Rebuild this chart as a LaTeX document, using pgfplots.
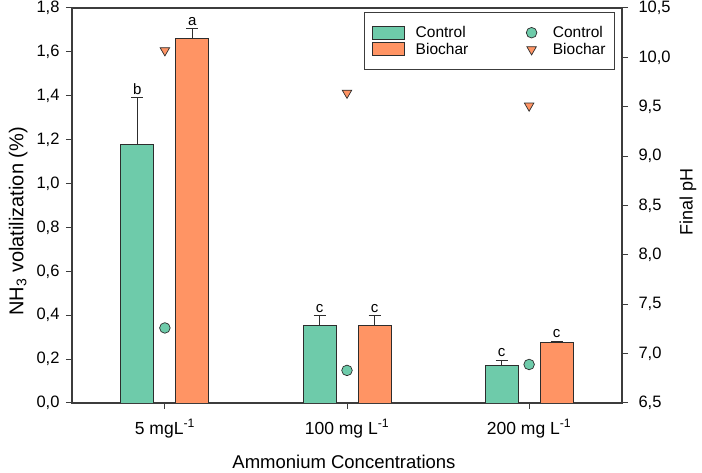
\documentclass[border=0pt]{standalone}
\usepackage{fontspec}
\setmainfont{Liberation Sans}
\usepackage{pgfplots}
\pgfplotsset{compat=1.18}
\definecolor{ctrl}{RGB}{110,203,170}
\definecolor{bio}{RGB}{255,148,100}
\definecolor{edge}{RGB}{45,45,45}
\definecolor{axisgray}{RGB}{60,60,60}
\pgfplotsset{patchlegend/.style={legend image code/.code={\draw[##1] (0pt,-6.5pt) rectangle (32pt,6.5pt);}}}
\begin{document}
\begin{tikzpicture}
\begin{axis}[
  scale only axis, width=550pt, height=395pt,
  xmin=-0.51, xmax=2.51, ymin=0, ymax=1.8,
  xtick={0,1,2},
  xticklabels={5 mgL\textsuperscript{-1}, 100 mg L\textsuperscript{-1}, 200 mg L\textsuperscript{-1}},
  ytick={0,0.2,0.4,0.6,0.8,1.0,1.2,1.4,1.6,1.8},
  xtick pos=lower, ytick pos=left, tick align=outside, major tick length=6pt,
  /pgf/number format/.cd, use comma, fixed, fixed zerofill, precision=1, assume math mode=true,
  /pgfplots/.cd,
  axis line style={axisgray, line width=1.1pt},
  every tick/.style={axisgray, line width=1pt},
  yticklabel style={font=\fontsize{16.5}{19}\selectfont, xshift=-3pt},
  xticklabel style={font=\fontsize{17.5}{20}\selectfont, yshift=-7pt},
  xlabel={Ammonium Concentrations},
  ylabel={NH\textsubscript{3} volatilization (\%)},
  xlabel style={font=\fontsize{18.5}{21}\selectfont, at={(axis description cs:0.4945,-0.149)}, anchor=center},
  ylabel style={font=\fontsize{20}{23}\selectfont, at={(axis description cs:-0.098,0.46)}, anchor=center},
]
\addplot[ybar, bar width=33pt, bar shift=0pt, fill=ctrl, draw=edge, line width=0.9pt,
  error bars/.cd, y dir=plus, y explicit,
  error bar style={edge, line width=0.9pt},
  error mark options={rotate=90, mark size=6pt, edge, line width=0.9pt}]
coordinates {(-0.151,1.176) +- (0,0.215) (0.849,0.355) +- (0,0.043) (1.849,0.173) +- (0,0.023)};
\addplot[ybar, bar width=33pt, bar shift=0pt, fill=bio, draw=edge, line width=0.9pt,
  error bars/.cd, y dir=plus, y explicit,
  error bar style={edge, line width=0.9pt},
  error mark options={rotate=90, mark size=6pt, edge, line width=0.9pt}]
coordinates {(0.151,1.662) +- (0,0.043) (1.151,0.355) +- (0,0.043) (2.151,0.277) +- (0,0.005)};
\begin{scope}[every node/.style={anchor=south, inner sep=3pt, font=\fontsize{15}{17}\selectfont}]
\node at (axis cs:-0.151,1.391) {b};
\node at (axis cs:0.151,1.705) {a};
\node at (axis cs:0.849,0.398) {c};
\node at (axis cs:1.151,0.398) {c};
\node at (axis cs:1.849,0.196) {c};
\node at (axis cs:2.151,0.282) {c};
\end{scope}
\end{axis}
\begin{axis}[
  scale only axis, width=550pt, height=395pt,
  xmin=-0.51, xmax=2.51, ymin=6.5, ymax=10.5,
  axis x line=none, axis y line*=right,
  ytick={6.5,7.0,7.5,8.0,8.5,9.0,9.5,10.0,10.5},
  tick align=outside, major tick length=6pt,
  /pgf/number format/.cd, use comma, fixed, fixed zerofill, precision=1, assume math mode=true,
  /pgfplots/.cd,
  axis line style={axisgray, line width=1.1pt},
  every tick/.style={axisgray, line width=1pt},
  yticklabel style={font=\fontsize{16.5}{19}\selectfont, xshift=7pt},
  ylabel={Final pH},
  ylabel style={font=\fontsize{18}{21}\selectfont, at={(axis description cs:1.12,0.509)}, anchor=center},
  legend columns=2,
  legend cell align=left,
  legend style={at={(rel axis cs:0.987,0.99)}, anchor=north east, draw=axisgray, line width=0.8pt,
    font=\fontsize{15.5}{17}\selectfont, inner xsep=7pt, inner ysep=12pt,
    /tikz/column 1/.style={column sep=9pt},
    /tikz/column 2/.style={column sep=56pt},
    /tikz/column 3/.style={column sep=14pt}},
]
\addlegendimage{patchlegend, fill=ctrl, draw=edge, line width=0.9pt}
\addlegendentry{Control}
\addplot[only marks, mark=*, mark size=5.3pt, mark options={fill=ctrl, draw=edge, line width=0.7pt}]
coordinates {(0,7.26) (1,6.83) (2,6.89)};
\addlegendentry{Control}
\addlegendimage{patchlegend, fill=bio, draw=edge, line width=0.9pt}
\addlegendentry{Biochar}
\addplot[only marks, mark=triangle*, mark size=5.5pt, mark options={rotate=180, fill=bio, draw=edge, line width=0.7pt}]
coordinates {(0,10.07) (1,9.64) (2,9.51)};
\addlegendentry{Biochar}
\end{axis}
\pgfresetboundingbox
\path (-72pt,-70pt) rectangle (630pt,403pt);
\end{tikzpicture}
\end{document}
